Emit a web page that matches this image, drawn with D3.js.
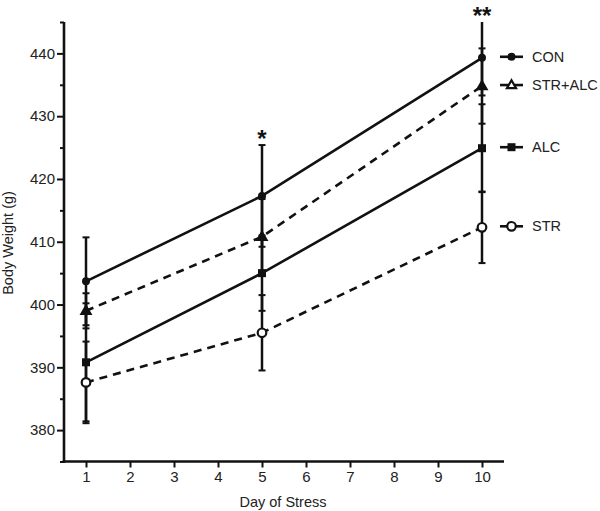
<!DOCTYPE html>
<html>
<head>
<meta charset="utf-8">
<script src="https://cdn.jsdelivr.net/npm/d3@7"></script>
<style>
  html, body { margin: 0; padding: 0; background: #fff; }
  svg { display: block; font-family: "Liberation Sans", Arial, sans-serif; }
</style>
</head>
<body>
<svg id="chart" width="600" height="511"></svg>
<script>
// ---- data ----
const days = [1, 5, 10];
const xTicks = [1, 2, 3, 4, 5, 6, 7, 8, 9, 10];
const yTicks = [380, 390, 400, 410, 420, 430, 440];
const yMinorTicks = [375, 385, 395, 405, 415, 425, 435, 445];
const seriesNames = ["CON", "STR+ALC", "ALC", "STR"];
const conMean = [403.7, 417.3, 439.3];
const conErr = [7.0, 8.1, 6.0];
const stralcMean = [399.0, 410.8, 434.8];
const stralcErr = [2.8, 6.0, 6.0];
const alcMean = [390.8, 405.0, 424.9];
const alcErr = [9.4, 6.0, 7.0];
const strMean = [387.6, 395.5, 412.3];
const strErr = [6.5, 6.0, 5.7];
const significance = [{ day: 5, label: "*" }, { day: 10, label: "**" }];

const series = [
  { name: "CON", mean: conMean, err: conErr, dash: null, marker: "circleFilled" },
  { name: "STR+ALC", mean: stralcMean, err: stralcErr, dash: "8,6", marker: "triangleOpen" },
  { name: "ALC", mean: alcMean, err: alcErr, dash: null, marker: "squareFilled" },
  { name: "STR", mean: strMean, err: strErr, dash: "8,6", marker: "circleOpen" }
];

const svg = d3.select("#chart");
const x = d3.scaleLinear().domain([0.5, 10.5]).range([64, 504]);
const y = d3.scaleLinear().domain([375, 445]).range([461.5, 22]);
const ink = "#111";

// error bars
const eb = svg.append("g");
series.forEach(s => {
  days.forEach((d, i) => {
    const cx = x(d);
    const top = Math.max(y(s.mean[i] + s.err[i]), y(445));
    const bot = y(s.mean[i] - s.err[i]);
    eb.append("line").attr("x1", cx).attr("x2", cx).attr("y1", top).attr("y2", bot)
      .attr("stroke", ink).attr("stroke-width", 2.5);
    [s.mean[i] + s.err[i], s.mean[i] - s.err[i]].forEach(v => {
      if (v <= 445) {
        eb.append("line").attr("x1", cx - 3.5).attr("x2", cx + 3.5)
          .attr("y1", y(v)).attr("y2", y(v)).attr("stroke", ink).attr("stroke-width", 2);
      }
    });
  });
});

// lines
const line = d3.line().x((d, i) => x(days[i])).y(d => y(d));
series.forEach(s => {
  svg.append("path").datum(s.mean).attr("d", line)
    .attr("fill", "none").attr("stroke", ink).attr("stroke-width", 2.6)
    .attr("stroke-dasharray", s.dash);
});

function drawMarker(g, type, cx, cy, inPlot) {
  if (type === "circleFilled") {
    g.append("circle").attr("cx", cx).attr("cy", cy).attr("r", 4).attr("fill", ink);
  } else if (type === "circleOpen") {
    g.append("circle").attr("cx", cx).attr("cy", cy).attr("r", 4.3)
      .attr("fill", "#fff").attr("stroke", ink).attr("stroke-width", 2.2);
  } else if (type === "squareFilled") {
    g.append("rect").attr("x", cx - 4).attr("y", cy - 4).attr("width", 8).attr("height", 8).attr("fill", ink);
  } else if (type === "triangleOpen") {
    g.append("path").attr("d", d3.symbol().type(d3.symbolTriangle).size(36)())
      .attr("transform", `translate(${cx},${cy + 0.5})`)
      .attr("fill", inPlot ? ink : "#fff").attr("stroke", ink).attr("stroke-width", 2.2);
  }
}

// markers
const mk = svg.append("g");
series.forEach(s => {
  days.forEach((d, i) => drawMarker(mk, s.marker, x(d), y(s.mean[i]), true));
});

// axes
const yAxis = svg.append("g").attr("transform", "translate(64,0)")
  .call(d3.axisLeft(y).tickValues(yTicks).tickSize(7).tickPadding(2).tickFormat(d3.format("d")));
svg.append("g").attr("transform", "translate(64,0)")
  .call(d3.axisLeft(y).tickValues(yMinorTicks).tickSize(4).tickFormat(""))
  .call(g => g.select(".domain").remove());
const xAxis = svg.append("g").attr("transform", "translate(0,461.5)")
  .call(d3.axisBottom(x).tickValues(xTicks).tickSize(6).tickPadding(4).tickFormat(d3.format("d")));

svg.selectAll(".domain").attr("stroke", ink).attr("stroke-width", 2.6);
svg.selectAll(".tick line").attr("stroke", ink).attr("stroke-width", 2);
svg.selectAll(".tick text").attr("font-size", 15).attr("fill", "#222")
  .attr("font-family", "'Liberation Sans', Arial, sans-serif");
yAxis.select(".domain").attr("d", `M0,${y(445)}V${y(375) + 1.3}`);
xAxis.select(".domain").attr("d", `M${x(0.5) - 1.3},0H${x(10.5)}`);

// axis titles
svg.append("text").attr("x", 283).attr("y", 507).attr("text-anchor", "middle")
  .attr("font-size", 14.5).attr("fill", "#222").text("Day of Stress");
svg.append("text").attr("transform", `translate(13,243) rotate(-90)`).attr("text-anchor", "middle")
  .attr("font-size", 14.5).attr("fill", "#222").text("Body Weight (g)");

// significance marks
significance.forEach(s => {
  svg.append("text").attr("x", x(s.day)).attr("y", s.day === 5 ? 147 : 24)
    .attr("text-anchor", "middle").attr("font-size", 24).attr("font-weight", "bold")
    .attr("fill", ink).text(s.label);
});

// legend (placed at the end value of each series)
const lg = svg.append("g");
series.forEach(s => {
  const ly = y(s.mean[2]) - 1;
  lg.append("line").attr("x1", 500).attr("x2", 523).attr("y1", ly).attr("y2", ly)
    .attr("stroke", ink).attr("stroke-width", 2.6);
  drawMarker(lg, s.marker, 511.5, ly, false);
  lg.append("text").attr("x", 532).attr("y", ly).attr("dy", "0.35em")
    .attr("font-size", 14.5).attr("fill", "#222").text(s.name);
});
</script>
</body>
</html>
